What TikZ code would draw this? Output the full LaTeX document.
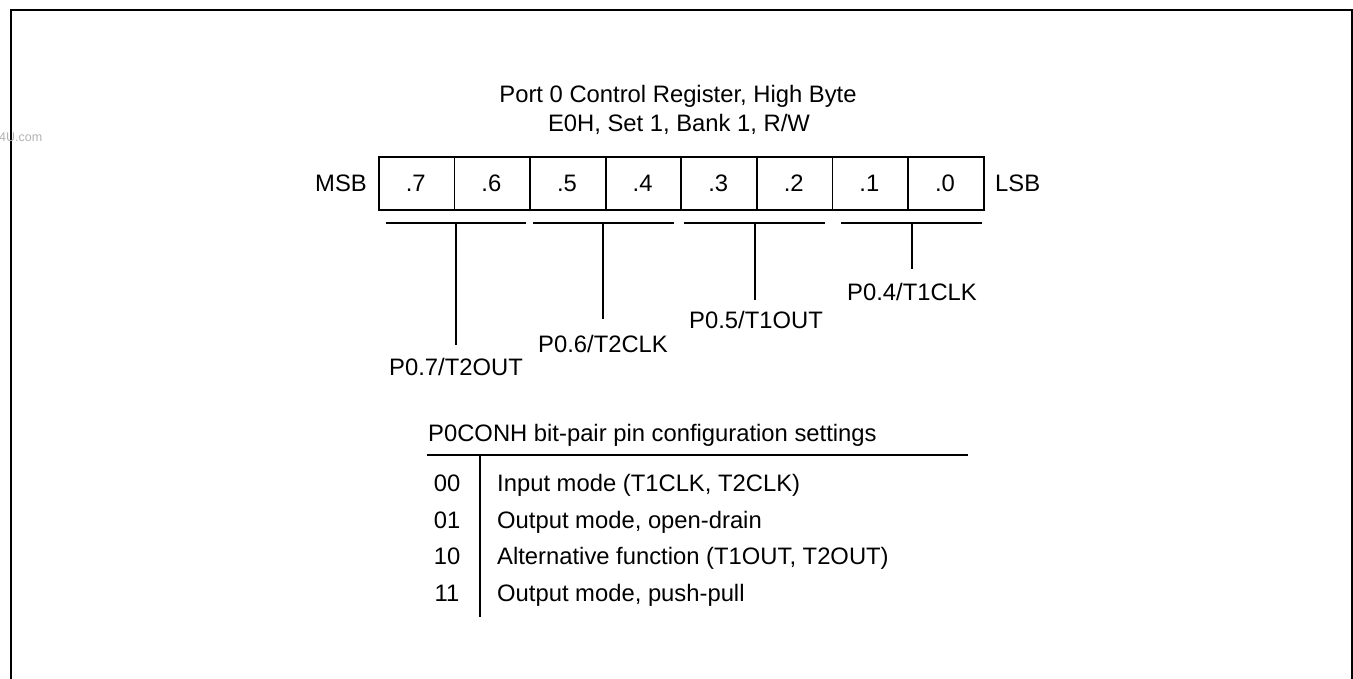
\documentclass[tikz,border=0pt]{standalone}
\usepackage{fontspec}
\setmainfont{Liberation Sans}
\begin{document}
\begin{tikzpicture}[x=1pt,y=-1pt,
  txt/.style={inner sep=0pt, font=\fontsize{23.8}{28}\selectfont},
  cell/.style={draw, line width=1.8pt, minimum width=75.6pt, minimum height=53pt, inner sep=0pt, anchor=north west},
  thin/.style={line width=1.8pt},
  frame/.style={line width=2.8pt}]
\useasboundingbox (0,0) rectangle (1353,679);
% outer frame (bottom lies below the picture)
\draw[frame] (11,700) -- (11,10) -- (1352,10) -- (1352,700);
% watermark
\node[inner sep=0pt, anchor=base west, text=black!30, font=\fontsize{12.5}{14}\selectfont] (wm) at (-1,142) {4U.com};
% title
\node[txt, anchor=base] (t1) at (678,103) {Port 0 Control Register, High Byte};
\node[txt, anchor=base] (t2) at (679,131.5) {E0H, Set 1, Bank 1, R/W};
% register cells
\foreach \i/\b in {0/7,1/6,2/5,3/4,4/3,5/2,6/1,7/0} {
  \node[cell] (c\b) at ({378+75.6*\i},156) {};
  \node[txt, anchor=base] (l\b) at ({378+75.6*(\i+0.5)},191.5) {.\b};
}
\node[txt, anchor=base east] (msb) at (367,191.5) {MSB};
\node[txt, anchor=base west] (lsb) at (995,191.5) {LSB};
% brackets
\coordinate (a1) at (386,223); \coordinate (e1) at (526,223); \coordinate (m1) at (456,223);
\coordinate (a2) at (533,223); \coordinate (e2) at (674,223); \coordinate (m2) at (603,223);
\coordinate (a3) at (684,223); \coordinate (e3) at (825,223); \coordinate (m3) at (755,223);
\coordinate (a4) at (841,223); \coordinate (e4) at (982,223); \coordinate (m4) at (912,223);
\coordinate (s1) at (456,345);
\coordinate (s2) at (603,319);
\coordinate (s3) at (755,300);
\coordinate (s4) at (912,269);
\foreach \k in {1,2,3,4} {
  \draw[thin] (a\k) -- (e\k);
  \draw[thin] (m\k) -- (s\k);
}
\node[txt, anchor=base] (p7) at (456,375.5) {P0.7/T2OUT};
\node[txt, anchor=base] (p6) at (603,352.5) {P0.6/T2CLK};
\node[txt, anchor=base] (p5) at (756,328) {P0.5/T1OUT};
\node[txt, anchor=base] (p4) at (912,300.5) {P0.4/T1CLK};
% settings table
\node[txt, anchor=base west] (tt) at (428,441.5) {P0CONH bit-pair pin configuration settings};
\coordinate (h1) at (427,455); \coordinate (h2) at (968,455);
\coordinate (v1) at (480,455); \coordinate (v2) at (480,617);
\draw[thin] (h1) -- (h2);
\draw[thin] (v1) -- (v2);
\node[txt, anchor=base] (k0) at (447,491.5) {00};
\node[txt, anchor=base] (k1) at (447,528) {01};
\node[txt, anchor=base] (k2) at (447,564.5) {10};
\node[txt, anchor=base] (k3) at (447,601) {11};
\node[txt, anchor=base west] (d0) at (497,491.5) {Input mode (T1CLK, T2CLK)};
\node[txt, anchor=base west] (d1) at (497,528) {Output mode, open-drain};
\node[txt, anchor=base west] (d2) at (497,564.5) {Alternative function (T1OUT, T2OUT)};
\node[txt, anchor=base west] (d3) at (497,601) {Output mode, push-pull};
\end{tikzpicture}
\end{document}
